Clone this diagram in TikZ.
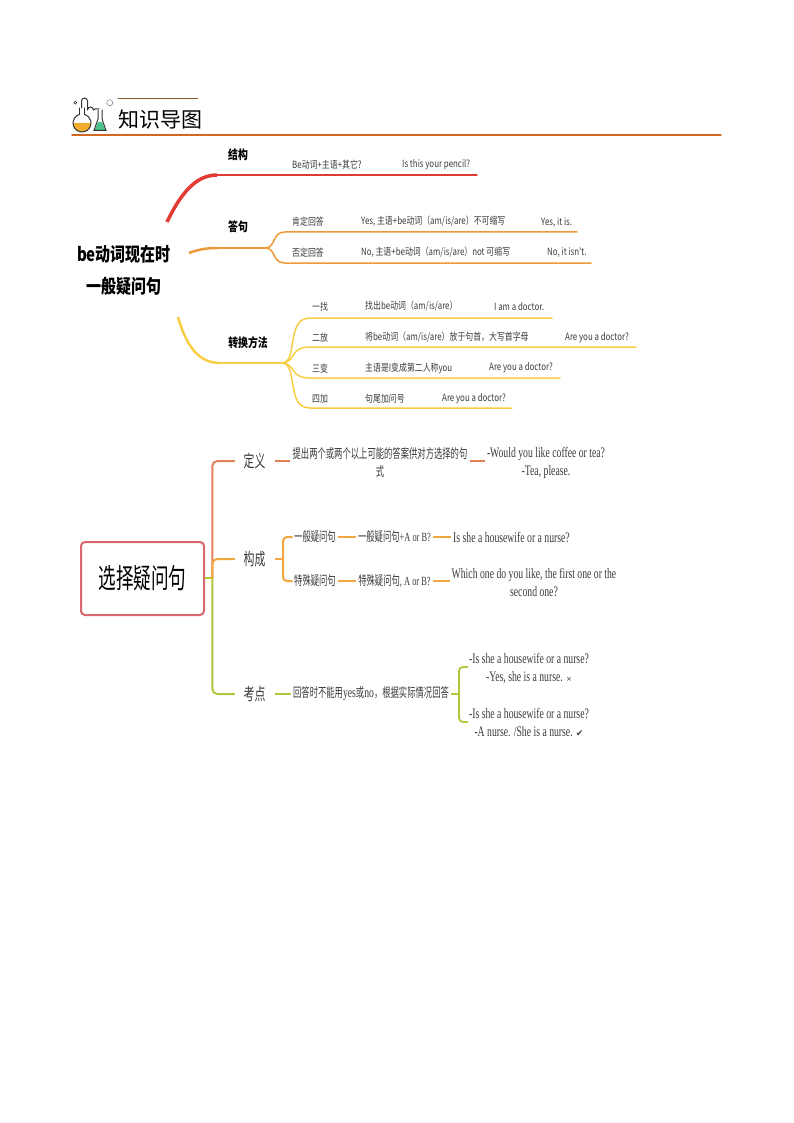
\documentclass[tikz,border=0pt]{standalone}
\usepackage{fontspec}
\setmainfont{Liberation Serif}
\newfontfamily\zhfont[FakeStretch=0.79]{Noto Sans CJK SC}
\newfontfamily\zhtitle{Noto Sans CJK SC}
\newfontfamily\zhnarrow[FakeStretch=0.64]{Noto Sans CJK SC}
\newfontfamily\lownarrow[FakeStretch=0.67]{Liberation Serif}
\newfontfamily\markfont{DejaVu Sans}
\newcommand{\zh}[1]{{\zhnarrow\fontsize{13}{18}\selectfont #1}}
\definecolor{rulebrown}{HTML}{D2691E}
\definecolor{brred}{HTML}{E23B33}
\definecolor{brorange}{HTML}{EE9A3A}
\definecolor{bryellow}{HTML}{F7CE46}
\definecolor{boxred}{HTML}{D9686E}
\definecolor{lowred}{HTML}{E4805A}
\definecolor{loworange}{HTML}{F2A63F}
\definecolor{lowgreen}{HTML}{B4C43C}
\definecolor{leafgray}{HTML}{3A3A3A}
\tikzset{
  leaf/.style={font=\zhfont\fontsize{10}{12}\selectfont,text=leafgray,inner sep=0pt,anchor=west,yshift=-1.5pt},
  topic/.style={font=\zhfont\bfseries\fontsize{12.5}{14}\selectfont,inner sep=0pt},
  lowtopic/.style={font=\zhnarrow\fontsize{17}{18}\selectfont,text=leafgray,inner xsep=9pt,inner ysep=2pt},
  lowleaf/.style={font=\lownarrow\fontsize{14.5}{18}\selectfont,text=leafgray,inner sep=2pt,align=center},
  lowrule/.style={lowleaf,font=\lownarrow\fontsize{12.5}{18}\selectfont},
  thick red/.style={draw=brred,line width=1.8pt},
  yline/.style={draw=bryellow,line width=1.5pt},
  oline/.style={draw=brorange,line width=1.5pt},
  bigtitle/.style={font=\zhfont\bfseries\fontsize{19}{22}\selectfont,inner sep=0pt},
}
\begin{document}
\begin{tikzpicture}[x=1pt,y=-1pt,line cap=round]
\useasboundingbox (0,0) rectangle (794,1123);

% header
\coordinate (rulea) at (72,135);
\coordinate (ruleb) at (721,135);
\coordinate (shorta) at (118,98);
\coordinate (shortb) at (198,98);
\draw[rulebrown,line width=1.4pt] (rulea) -- (ruleb);
\draw[brown!70!black,line width=.8pt] (shorta) -- (shortb);
\node[inner sep=0pt,anchor=west,font=\zhtitle\fontsize{21}{24}\selectfont] (title) at (118,119.5) {知识导图};

% flasks
\fill[brorange!80!yellow] (73,123) arc (180:0:9) -- cycle;
\draw[black!80,line width=1pt] (79.7,114.3) arc (255:-75:9);
\draw[black!80,line width=1pt] (79.7,114.3) -- (79.7,108);
\draw[black!80,line width=1pt] (84.3,114.3) -- (84.3,108);
\draw[black!80,line width=1pt] (81.5,108) -- (81.5,101) arc (180:360:3) -- (87.5,110);
\draw[black!80,line width=1pt] (87.5,110) arc (180:360:3) -- (95,109) -- (99,109);
\fill[teal!70!green!70] (98,122) -- (102,122) -- (105.5,130.5) -- (94.5,130.5) -- cycle;
\draw[black!80,line width=1pt] (98,110) -- (98,119) -- (94,130.5) -- (106,130.5) -- (102,119) -- (102,110);
\draw[black!80,line width=.6pt] (75.3,102.7) circle (1.5);
\draw[black!70,densely dotted,line width=.6pt] (109.7,102.7) circle (3);

% be verb map
\node[bigtitle] (bequest) at (124,254) {be动词现在时};
\node[bigtitle] (bequestb) at (124,286) {一般疑问句};

\node[topic] (jiegou) at (238,155) {结构};
\node[topic] (dajv) at (238,227) {答句};
\node[topic] (zhuanhuan) at (248,343) {转换方法};

\coordinate (reda) at (167,222);
\coordinate (redb) at (217,175);
\coordinate (redc) at (477,175);
\draw[brred,line width=3.5pt,line cap=butt] (reda) .. controls (180,195) and (195,175) .. (redb);
\draw[thick red] (redb) -- (redc);
\node[leaf] (besj) at (292,163) {Be动词+主语+其它?};
\node[leaf] (pencil) at (402,163) {Is this your pencil?};

\coordinate (orga) at (189,253);
\coordinate (orgb) at (217,248);
\coordinate (orgc) at (266,248);
\coordinate (yesa) at (285,232);
\coordinate (yesb) at (577,232);
\coordinate (noa) at (285,263);
\coordinate (nob) at (591,263);
\draw[brorange,line width=2.5pt,line cap=butt] (orga) .. controls (198,249.5) and (207,248) .. (orgb);
\draw[oline] (orgb) -- (orgc);
\draw[oline] (orgc) .. controls (276,247) and (272,232) .. (yesa) -- (yesb);
\draw[oline] (orgc) .. controls (276,249) and (272,263) .. (noa) -- (nob);
\node[leaf] (yeshead) at (292,220) {肯定回答};
\node[leaf] (yesrule) at (361,220) {Yes, 主语+be动词（am/is/are）不可缩写};
\node[leaf] (yesans) at (541,221) {Yes, it is.};
\node[leaf] (nohead) at (292,251) {否定回答};
\node[leaf] (norule) at (361,251) {No, 主语+be动词（am/is/are）not 可缩写};
\node[leaf] (noans) at (547,251) {No, it isn't.};

\coordinate (yela) at (178,317);
\coordinate (yelb) at (220,363);
\coordinate (yelc) at (283,363);
\coordinate (onea) at (310,318);
\coordinate (oneb) at (552,318);
\coordinate (twoa) at (310,347);
\coordinate (twob) at (636,347);
\coordinate (threea) at (310,378);
\coordinate (threeb) at (560,378);
\coordinate (foura) at (310,408);
\coordinate (fourb) at (512,408);
\draw[bryellow,line width=2.5pt,line cap=butt] (yela) .. controls (186,345) and (198,363) .. (yelb);
\draw[yline] (yelb) -- (yelc);
\draw[yline] (yelc) .. controls (298,360) and (286,318) .. (onea) -- (oneb);
\draw[yline] (yelc) .. controls (296,361) and (290,347) .. (twoa) -- (twob);
\draw[yline] (yelc) .. controls (296,365) and (290,378) .. (threea) -- (threeb);
\draw[yline] (yelc) .. controls (298,366) and (286,408) .. (foura) -- (fourb);
\node[leaf] (onehead) at (312,305) {一找};
\node[leaf] (onerule) at (365,305) {找出be动词（am/is/are）};
\node[leaf] (oneans) at (494,305) {I am a doctor.};
\node[leaf] (twohead) at (312,336) {二放};
\node[leaf] (tworule) at (365,336) {将be动词（am/is/are）放于句首，大写首字母};
\node[leaf] (twoans) at (565,336) {Are you a doctor?};
\node[leaf] (threehead) at (312,367) {三变};
\node[leaf] (threerule) at (365,367) {主语是I变成第二人称you};
\node[leaf] (threeans) at (489,366) {Are you a doctor?};
\node[leaf] (fourhead) at (312,397) {四加};
\node[leaf] (fourrule) at (365,397) {句尾加问号};
\node[leaf] (fourans) at (442,397) {Are you a doctor?};

% choice question map
\node[draw=boxred,line width=2pt,rounded corners=4pt,minimum width=123pt,minimum height=73pt,inner sep=0pt,font=\zhnarrow\fontsize{27.5}{30}\selectfont] (choice) at (142.5,578.5) {选择疑问句};

\node[lowtopic] (define) at (254.5,461) {定义};
\node[lowtopic] (form) at (254.5,559) {构成};
\node[lowtopic] (point) at (254.5,694) {考点};

\coordinate (trunk) at (212.3,577.7);
\draw[lowgreen,line width=2pt] (choice.east |- trunk) -- (trunk);
\draw[lowred,line width=2pt,rounded corners=5pt] (trunk) -- (212.3,461) -- (define.west);
\draw[lowgreen,line width=2pt,rounded corners=5pt] (trunk) -- (212.3,694) -- (point.west);
\draw[loworange,line width=2pt,rounded corners=5pt] (trunk) -- (212.3,559) -- (form.west);

% definition row
\node[lowleaf] (defrule) at (380,463) {\zh{提出两个或两个以上可能的答案供对方选择的句}\\\zh{式}};
\node[lowleaf] (defeg) at (546,463) {-Would you like coffee or tea?\\-Tea, please.};
\draw[lowred,line width=2.5pt,line cap=butt] (define.east) -- (defrule.west |- define);
\draw[lowred,line width=1.8pt,line cap=butt] (defrule.east |- define) -- (defeg.west |- define);

% form row
\coordinate (forma) at (283,559);
\node[lowleaf] (genq) at (315,537) {\zh{一般疑问句}};
\node[lowleaf] (speq) at (315,581) {\zh{特殊疑问句}};
\node[lowrule] (genrule) at (394.5,537) {\zh{一般疑问句}+A or B?};
\node[lowrule] (sperule) at (394.5,581) {\zh{特殊疑问句}, A or B?};
\node[lowleaf] (geneg) at (511.5,537) {Is she a housewife or a nurse?};
\node[lowleaf] (speeg) at (534,582) {Which one do you like, the first one or the\\second one?};
\draw[loworange,line width=2.5pt,line cap=butt] (form.east) -- (forma);
\draw[loworange,line width=2pt,rounded corners=4pt] (genq.west) -- (forma |- genq) -- (forma |- speq) -- (speq.west);
\draw[loworange,line width=1.8pt,line cap=butt] (genq.east) -- (genrule.west);
\draw[loworange,line width=1.8pt,line cap=butt] (speq.east) -- (sperule.west);
\draw[loworange,line width=1.8pt,line cap=butt] (genrule.east) -- (geneg.west);
\draw[loworange,line width=1.8pt,line cap=butt] (sperule.east) -- (speeg.west |- sperule);

% point row
\node[lowleaf] (pointrule) at (371,694) {\zh{回答时不能用}yes\zh{或}no\zh{，根据实际情况回答}};
\node[lowleaf] (wrong) at (529,668.5) {-Is she a housewife or a nurse?\\-Yes, she is a nurse. {\markfont\fontsize{7}{9}\selectfont ×}};
\node[lowleaf] (right) at (529,722) {-Is she a housewife or a nurse?\\-A nurse. /She is a nurse. {\markfont\fontsize{9}{9}\selectfont ✔}};
\coordinate (pointa) at (459,694);
\coordinate (wronga) at (467.5,667);
\coordinate (righta) at (467.5,722);
\draw[lowgreen,line width=2.5pt,line cap=butt] (point.east) -- (pointrule.west);
\draw[lowgreen,line width=1.8pt,line cap=butt] (pointrule.east) -- (pointa);
\draw[lowgreen,line width=1.8pt,rounded corners=4pt] (wronga) -- (pointa |- wronga) -- (pointa |- righta) -- (righta);
\end{tikzpicture}
\end{document}
